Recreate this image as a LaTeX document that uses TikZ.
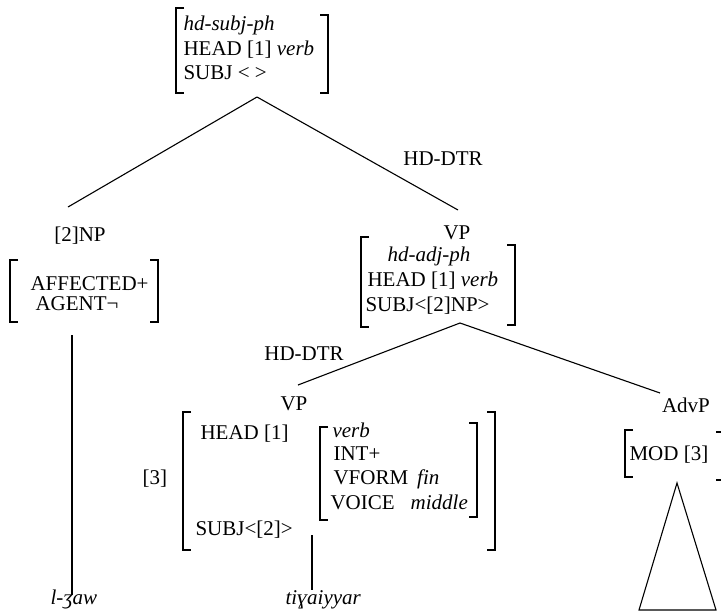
\documentclass[tikz,border=0pt]{standalone}
\usepackage{fontspec}
\setmainfont{Liberation Serif}
% square brackets of an attribute-value matrix: x, top y, bottom y
\newcommand\AvmOpen[3]{\draw (#1+8,#2) -- (#1,#2) -- (#1,#3) -- (#1+8,#3);}
\newcommand\AvmClose[3]{\draw (#1-8,#2) -- (#1,#2) -- (#1,#3) -- (#1-8,#3);}
\begin{document}
\begin{tikzpicture}[x=1pt,y=-1pt,line width=1.1pt,line cap=butt,
  txt/.style={inner sep=0pt,anchor=base west,font=\fontsize{21}{24}\selectfont},
  cat/.style={inner sep=0pt,anchor=base,font=\fontsize{21}{24}\selectfont}]
\clip (0,0) rectangle (721,614);
\fill[white] (0,0) rectangle (721,614);

% ---- top phrase: hd-subj-ph
\AvmOpen{176}{8}{93}
\AvmClose{328}{15}{93}
\node[txt] (s1) at (183,30) {\textit{hd-subj-ph}};
\node[txt] (s2) at (183,55) {HEAD [1] \textit{verb}};
\node[txt] (s3) at (183,79) {SUBJ < >};

\coordinate (s-apex) at (257,97);
\coordinate (np-top) at (68,207);
\coordinate (vp-top) at (458,210);
\draw (s-apex) -- (np-top);
\draw (s-apex) -- (vp-top);
\node[cat] (hd1) at (443,165) {HD-DTR};

% ---- subject NP
\node[cat] (np) at (80,241) {[2]NP};
\AvmOpen{10}{260}{322}
\AvmClose{158}{260}{322}
\node[txt] (np1) at (30,290) {AFFECTED+};
\node[txt] (np2) at (35,310) {AGENT¬};
\coordinate (np-stem) at (72,335);
\coordinate (np-leaf) at (72,595);
\draw (np-stem) -- (np-leaf);
\node[txt] (w1) at (50,604) {\textit{l-ʒaw}};

% ---- VP: hd-adj-ph
\node[cat] (vp) at (457,239) {VP};
\AvmOpen{361}{237}{327}
\AvmClose{515}{245}{325}
\node[txt] (vp1) at (387,261) {\textit{hd-adj-ph}};
\node[txt] (vp2) at (367,286) {HEAD [1] \textit{verb}};
\node[txt] (vp3) at (365,311) {SUBJ<[2]NP>};

\coordinate (vp-apex) at (460,323);
\coordinate (vp2-top) at (298,385);
\coordinate (adv-top) at (660,393);
\draw (vp-apex) -- (vp2-top);
\draw (vp-apex) -- (adv-top);
\node[cat] (hd2) at (304,360) {HD-DTR};

% ---- head daughter VP
\node[cat] (vpb) at (294,410) {VP};
\node[txt] (tag3) at (142,484) {[3]};
\AvmOpen{183}{412}{550}
\AvmClose{495}{412}{550}
\node[txt] (h1) at (200,439) {HEAD [1]};
\AvmOpen{320}{427}{520}
\AvmClose{477}{423}{517}
\node[txt] (h2) at (332,437) {\textit{verb}};
\node[txt] (h3) at (333,460) {INT+};
\node[txt] (h4) at (333,484) {VFORM\hspace{9pt}\textit{fin}};
\node[txt] (h5) at (330,509) {VOICE\hspace{16pt}\textit{middle}};
\node[txt] (h6) at (195,535) {SUBJ<[2]>};
\coordinate (vp-stem) at (312,535);
\coordinate (vp-leaf) at (312,590);
\draw (vp-stem) -- (vp-leaf);
\node[txt] (w2) at (285,604) {\textit{tiɣaiyyar}};

% ---- adjunct AdvP
\node[cat] (adv) at (686,412) {AdvP};
\AvmOpen{625}{430}{477}
\AvmClose{724}{432}{480}
\node[txt] (m1) at (629,460) {MOD [3]};
\draw (677,483) -- (716,610) -- (639,610) -- cycle;
\end{tikzpicture}
\end{document}
